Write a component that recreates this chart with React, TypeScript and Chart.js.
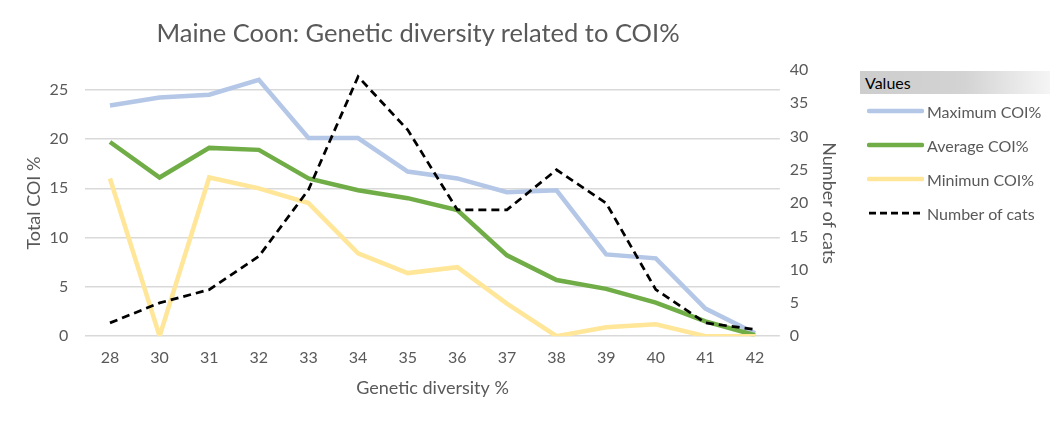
import React, { useEffect, useRef } from "react";
import { Chart, registerables } from "chart.js";

Chart.register(...registerables);

const categories = ["28", "30", "31", "32", "33", "34", "35", "36", "37", "38", "39", "40", "41", "42"];
const maximumCOI = [23.4, 24.2, 24.5, 26.0, 20.1, 20.1, 16.7, 16.0, 14.6, 14.8, 8.3, 7.9, 2.8, 0.3];
const averageCOI = [19.7, 16.1, 19.1, 18.9, 16.0, 14.8, 14.0, 12.8, 8.2, 5.7, 4.8, 3.4, 1.5, 0.1];
const minimumCOI = [16.0, 0, 16.1, 15.0, 13.5, 8.4, 6.4, 7.0, 3.3, 0, 0.9, 1.2, 0, 0];
const numberOfCats = [2, 5, 7, 12, 22, 39, 31, 19, 19, 25, 20, 7, 2, 1];
const leftTicks = [0, 5, 10, 15, 20, 25];

const FONT = "Lato, 'Open Sans', sans-serif";
const TEXT = "#595959";
const TITLE = "Maine Coon: Genetic diversity related to COI%";

const legendItems = [
  { label: "Maximum COI%", color: "#b4c7e7", width: 4.5, dash: false },
  { label: "Average COI%", color: "#70ad47", width: 4.5, dash: false },
  { label: "Minimun COI%", color: "#ffe699", width: 4.5, dash: false },
  { label: "Number of cats", color: "#000000", width: 2.75, dash: true },
];

export default function App() {
  const ref = useRef<HTMLCanvasElement>(null);
  useEffect(() => {
    if (!ref.current) return;
    const chart = new Chart(ref.current, {
      type: "line",
      data: {
        labels: categories,
        datasets: [
          { label: "Maximum COI%", data: maximumCOI, borderColor: "#b4c7e7", borderWidth: 4.5, pointRadius: 0, yAxisID: "y", order: 3, tension: 0 },
          { label: "Average COI%", data: averageCOI, borderColor: "#70ad47", borderWidth: 4.5, pointRadius: 0, yAxisID: "y", order: 2, tension: 0 },
          { label: "Minimun COI%", data: minimumCOI, borderColor: "#ffe699", borderWidth: 4.5, pointRadius: 0, yAxisID: "y", order: 1, tension: 0 },
          { label: "Number of cats", data: numberOfCats, borderColor: "#000000", borderWidth: 2.75, borderDash: [8, 5], pointRadius: 0, yAxisID: "y1", order: 0, tension: 0 },
        ],
      },
      options: {
        animation: false,
        responsive: false,
        layout: { padding: { left: 23, right: 222, top: 70, bottom: 23 } },
        plugins: {
          legend: { display: false },
          tooltip: { enabled: false },
          title: { display: false },
        },
        scales: {
          x: {
            offset: true,
            grid: { display: false, drawTicks: false },
            border: { display: false },
            ticks: { color: TEXT, font: { family: FONT, size: 16 }, padding: 12 },
            title: { display: true, text: "Genetic diversity %", color: TEXT, font: { family: FONT, size: 18 }, padding: { top: -2, bottom: 0 } },
          },
          y: {
            position: "left",
            min: 0,
            max: 27,
            afterBuildTicks: (axis: any) => {
              axis.ticks = leftTicks.map((v) => ({ value: v }));
            },
            grid: { color: "#d9d9d9", lineWidth: 1.5, drawTicks: false },
            border: { display: false },
            ticks: { color: TEXT, font: { family: FONT, size: 16 }, padding: 17 },
            title: { display: true, text: "Total COI %", color: TEXT, font: { family: FONT, size: 18 }, padding: { top: 0, bottom: -12 } },
          },
          y1: {
            position: "right",
            min: 0,
            max: 40,
            grid: { display: false, drawTicks: false },
            border: { display: false },
            ticks: { color: TEXT, font: { family: FONT, size: 16 }, stepSize: 5, padding: 10 },
            title: { display: true, text: "Number of cats", color: TEXT, font: { family: FONT, size: 18 }, padding: { top: 1, bottom: 0 } },
          },
        },
      },
    });
    return () => chart.destroy();
  }, []);

  return (
    <div style={{ position: "fixed", left: 0, top: 0, width: 1063, height: 422, background: "#fff", fontFamily: FONT }}>
      <canvas ref={ref} width={1063} height={422} style={{ display: "block" }} />
      <div
        style={{
          position: "absolute",
          left: 0,
          top: 16,
          width: 836,
          textAlign: "center",
          fontSize: 25.5,
          lineHeight: "32px",
          color: TEXT,
        }}
      >
        {TITLE}
      </div>
      <div
        style={{
          position: "absolute",
          left: 860,
          top: 71,
          width: 190,
          height: 23,
          background: "linear-gradient(to right, #cdcdcd, #d3d3d3 55%, #f5f5f5)",
          color: "#000",
          fontSize: 16,
          lineHeight: "23px",
          paddingLeft: 5,
          boxSizing: "border-box",
        }}
      >
        Values
      </div>
      {legendItems.map((it, i) => (
        <div key={it.label} style={{ position: "absolute", left: 867, top: 100 + i * 34, height: 22, display: "flex", alignItems: "center" }}>
          <svg width={57} height={10} style={{ marginRight: 3 }}>
            <line x1={2} y1={5} x2={55} y2={5} stroke={it.color} strokeWidth={it.width} strokeLinecap={it.dash ? "butt" : "round"} strokeDasharray={it.dash ? "7 4" : undefined} />
          </svg>
          <span style={{ color: TEXT, fontSize: 16 }}>{it.label}</span>
        </div>
      ))}
    </div>
  );
}
